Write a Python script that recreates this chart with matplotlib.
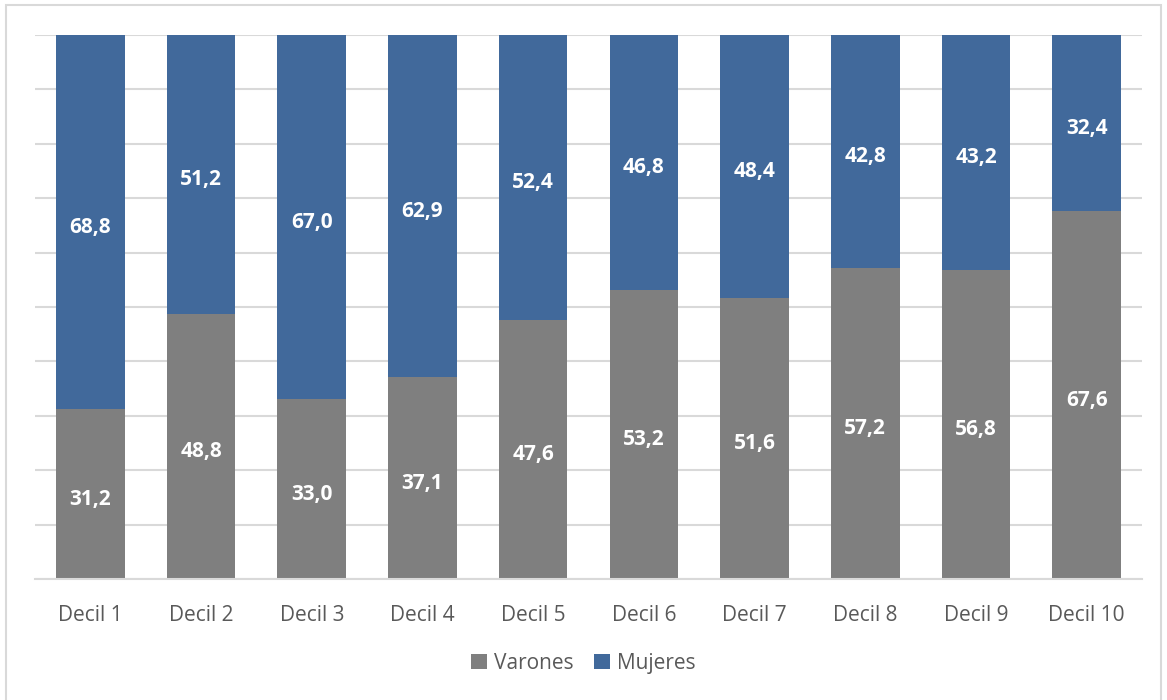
import matplotlib.pyplot as plt
from matplotlib.patches import Rectangle

deciles = ['Decil 1', 'Decil 2', 'Decil 3', 'Decil 4', 'Decil 5',
           'Decil 6', 'Decil 7', 'Decil 8', 'Decil 9', 'Decil 10']
varones = [31.2, 48.8, 33.0, 37.1, 47.6, 53.2, 51.6, 57.2, 56.8, 67.6]
mujeres = [68.8, 51.2, 67.0, 62.9, 52.4, 46.8, 48.4, 42.8, 43.2, 32.4]

gray = '#7f7f7f'
blue = '#41699b'
grid = '#d9d9d9'

plt.rcParams['font.family'] = ['Open Sans', 'DejaVu Sans']

fig = plt.figure(figsize=(11.67, 7), dpi=100)
ax = fig.add_axes([0.030, 0.1729, 0.9486, 0.7771])

x = range(len(deciles))
w = 0.62
b1 = ax.bar(x, varones, w, color=gray, label='Varones', zorder=2)
b2 = ax.bar(x, mujeres, w, bottom=varones, color=blue, label='Mujeres', zorder=2)

for i in x:
    ax.text(i, varones[i] / 2 - 0.5, f'{varones[i]:.1f}'.replace('.', ','),
            ha='center', va='center_baseline', color='white', fontsize=15,
            fontweight='bold', zorder=3)
    ax.text(i, varones[i] + mujeres[i] / 2 - 0.5, f'{mujeres[i]:.1f}'.replace('.', ','),
            ha='center', va='center_baseline', color='white', fontsize=15,
            fontweight='bold', zorder=3)

ax.set_xlim(-0.5, len(deciles) - 0.5)
ax.set_ylim(0, 100)
ax.set_yticks(range(0, 101, 10))
ax.yaxis.grid(True, color=grid, linewidth=1.5, zorder=0)
ax.tick_params(axis='y', left=False, labelleft=False)
ax.tick_params(axis='x', bottom=False, labelsize=15, labelcolor='#595959', pad=15)
ax.set_xticks(list(x))
ax.set_xticklabels(deciles)
for s in ['top', 'right', 'left']:
    ax.spines[s].set_visible(False)
ax.spines['bottom'].set_color(grid)
ax.spines['bottom'].set_linewidth(1.5)

leg = fig.legend(handles=[b1, b2], loc='center', bbox_to_anchor=(0.5, 0.052),
                 ncol=2, frameon=False, fontsize=15, handlelength=0.75,
                 handleheight=0.75, handletextpad=0.35, columnspacing=1.0)
for t in leg.get_texts():
    t.set_color('#595959')

fig.patches.append(Rectangle((0.005, -0.01), 0.99, 1.003, transform=fig.transFigure,
                             fill=False, edgecolor=grid, linewidth=1.5))

fig.savefig('out.png', dpi=100)
